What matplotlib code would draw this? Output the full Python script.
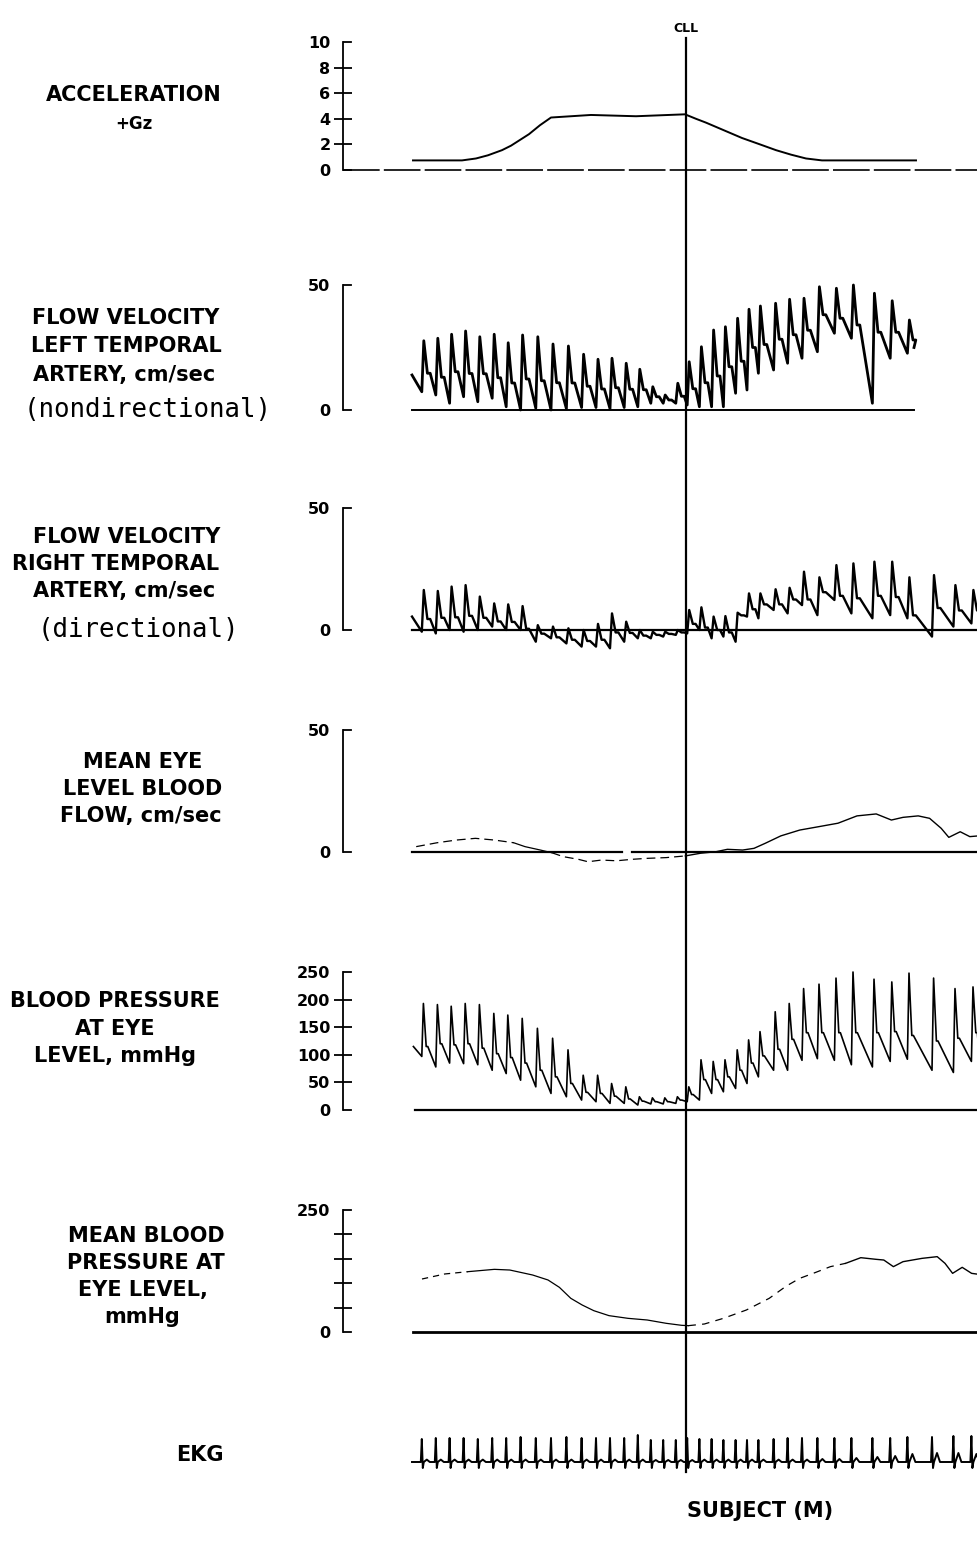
import numpy as np
import matplotlib
matplotlib.use('Agg')
import matplotlib.pyplot as plt
from matplotlib.transforms import blended_transform_factory

# ---- data (time in s, 0 = start of trace) ----
t_cll = 13.8

acc_t = [0.15, 2.6, 3.3, 3.9, 4.6, 5.05, 5.5, 5.95, 6.5, 7.05, 9.05, 11.3, 13.75,
         14.3, 14.8, 15.7, 16.6, 17.5, 18.3, 19.05, 19.8, 20.6, 25.3]
acc_g = [0.75, 0.75, 0.9, 1.15, 1.55, 1.9, 2.35, 2.8, 3.5, 4.1, 4.3, 4.2, 4.35,
         4.0, 3.7, 3.1, 2.5, 2.0, 1.55, 1.2, 0.9, 0.75, 0.75]

# heart beat onsets (from EKG / pulse upstrokes)
beat_t = [0.59, 1.29, 1.98, 2.68, 3.39, 4.11, 4.81, 5.53, 6.29, 7.05,
          7.82, 8.58, 9.30, 10.00, 10.71, 11.39, 12.04, 12.66, 13.29, 13.86,
          14.47, 15.08, 15.67, 16.28, 16.85, 17.42, 18.18, 18.88, 19.60, 20.37,
          21.22, 22.07, 23.12, 24.01, 24.87, 26.10, 27.17, 28.07]

# left temporal artery flow velocity (nondirectional), cm/sec
lta_peak = [27.7, 28.7, 30.3, 31.6, 29.3, 30.3, 26.9, 30.0, 29.3, 26.4,
            25.6, 22.3, 20.3, 20.7, 18.7, 16.3, 9.3, 6.0, 10.7, 19.3,
            25.3, 32.0, 33.3, 36.7, 40.3, 41.6, 42.7, 44.3, 44.7, 49.3,
            48.7, 50.0, 46.7, 43.7, 36.0]
lta_notch = [14.7, 13.1, 15.3, 14.6, 14.5, 12.9, 10.8, 12.4, 11.7, 10.9,
             10.8, 9.5, 8.4, 8.9, 8.3, 8.1, 5.3, 4.0, 5.5, 8.5,
             10.9, 13.6, 17.3, 19.5, 25.0, 26.2, 28.3, 30.1, 31.9, 38.1,
             36.7, 34.0, 31.1, 31.1, 28.0]
lta_trough = [7.3, 6.0, 2.7, 5.3, 3.3, 4.7, 1.3, 0.0, 0.7, 0.0,
              0.5, 1.0, 1.0, 0.5, 1.0, 1.3, 2.7, 2.7, 2.7, 2.0,
              1.3, 1.3, 1.3, 6.7, 8.0, 14.7, 16.0, 18.7, 20.7, 23.3,
              30.7, 28.7, 2.7, 20.7, 22.7]
lta_start, lta_end = (0.1, 14.0), (25.2, 25.0)

# right temporal artery flow velocity (directional), cm/sec
rta_peak = [16.4, 16.0, 17.8, 18.4, 13.7, 10.9, 10.5, 9.8, 2.0, 1.4,
            0.7, 0.0, 2.5, 6.8, 3.4, 0.0, -0.7, -0.7, 0.0, 8.2,
            9.3, 5.5, 5.7, 7.1, 15.0, 15.0, 16.7, 17.3, 23.9, 21.6,
            26.6, 27.3, 28.0, 28.0, 21.6, 22.5, 18.4, 16.4]
rta_notch = [4.5, 5.0, 5.2, 5.8, 5.0, 3.5, 3.3, 0.5, -1.5, -3.0,
             -4.0, -4.5, -4.0, -1.0, -1.2, -2.3, -2.0, -1.6, -1.0, 2.5,
             1.0, 0.0, -1.0, 6.0, 8.5, 10.5, 10.5, 12.5, 12.5, 15.5,
             14.0, 13.0, 14.0, 13.5, 6.0, 9.0, 8.0, 8.0]
rta_trough = [-0.7, -1.4, 0.0, -0.7, 0.0, 1.4, 0.0, 0.0, -4.8, -3.4,
              -5.5, -6.8, -6.8, -7.5, -4.8, -3.4, -3.4, -2.7, -2.0, -1.4,
              0.0, -3.4, -2.7, -4.8, 5.5, 4.8, 8.2, 6.8, 10.2, 6.1,
              12.3, 6.8, 4.8, 6.1, 4.8, -2.7, 1.4, 2.7]
rta_start, rta_end = (0.1, 5.5), (28.4, 11.0)

# mean eye level blood flow, cm/sec
mf_t = [0.31, 1.36, 2.32, 3.27, 4.22, 5.18, 5.75, 6.52, 7.09, 7.66,
        8.42, 8.90, 9.57, 10.33, 11.10, 11.86, 12.81, 13.77, 14.53, 15.29,
        15.87, 16.63, 17.20, 17.77, 18.54, 19.49, 20.45, 21.40, 22.35, 23.31,
        24.07, 24.65, 25.41, 25.98, 26.56, 26.94, 27.51, 27.99, 28.42]
mf_v = [2.2, 3.8, 4.9, 5.6, 4.9, 3.8, 2.2, 0.8, -0.3, -1.9,
        -3.0, -4.0, -3.3, -3.6, -3.0, -2.6, -2.3, -1.6, -0.5, 0.1,
        1.1, 0.8, 1.5, 3.6, 6.6, 9.0, 10.4, 11.8, 14.8, 15.6,
        13.1, 14.2, 14.8, 13.8, 9.7, 6.0, 8.3, 6.3, 6.6]

# blood pressure at eye level, mmHg
bp_peak = [193, 191, 188, 193, 191, 175, 172, 166, 148, 130,
           109, 63, 63, 48, 42, 24, 22, 22, 24, 42,
           91, 88, 91, 109, 127, 142, 178, 193, 220, 228,
           239, 250, 237, 232, 248, 239, 220, 223]
bp_notch = [115, 120, 118, 120, 112, 102, 95, 85, 72, 60,
            48, 32, 30, 25, 20, 16, 15, 15, 18, 28,
            55, 55, 60, 72, 85, 98, 110, 128, 140, 140,
            140, 140, 140, 142, 135, 125, 130, 140]
bp_trough = [97, 78, 85, 84, 82, 72, 66, 54, 42, 30,
             24, 18, 15, 12, 12, 9, 11, 11, 12, 15,
             18, 30, 33, 39, 48, 60, 72, 72, 90, 93,
             90, 82, 78, 88, 92, 72, 68, 88]
bp_start, bp_end = (0.17, 115), (28.4, 125)

# mean blood pressure at eye level, mmHg
mbp_t = [0.60, 1.74, 2.89, 4.22, 4.99, 6.13, 6.90, 7.47, 8.04, 8.61,
         9.19, 9.95, 10.90, 11.86, 12.81, 13.58, 13.92, 14.72, 15.67, 16.82,
         17.96, 18.82, 19.49, 20.25, 21.02, 21.78, 22.54, 23.31, 23.69, 24.17,
         24.65, 25.60, 26.36, 26.75, 27.13, 27.61, 28.08, 28.43]
mbp_v = [108.6, 118.9, 123.6, 128.4, 127.0, 116.8, 106.6, 91.5, 69.0, 55.3,
         43.7, 33.5, 28.0, 24.6, 17.8, 13.7, 13.0, 16.4, 28.0, 45.1,
         69.0, 94.3, 110.0, 121.6, 133.9, 140.7, 152.3, 148.9, 147.5, 133.9,
         144.1, 150.9, 154.4, 140.7, 120.2, 132.5, 120.2, 118.2]

# EKG (arbitrary units)
ekg_r = [1.15, 1.2, 1.2, 1.2, 1.15, 1.2, 1.2, 1.25, 1.2, 1.2,
         1.25, 1.2, 1.2, 1.2, 1.2, 1.35, 1.1, 1.1, 1.1, 1.2,
         1.15, 1.15, 1.1, 1.1, 1.1, 1.1, 1.15, 1.2, 1.2, 1.2,
         1.2, 1.2, 1.2, 1.2, 1.25, 1.25, 1.3, 1.3]
ekg_tw = [0.12, 0.12, 0.12, 0.12, 0.12, 0.12, 0.12, 0.12, 0.12, 0.12,
          0.12, 0.12, 0.12, 0.12, 0.12, 0.12, 0.1, 0.1, 0.1, 0.1,
          0.12, 0.12, 0.12, 0.12, 0.12, 0.12, 0.12, 0.12, 0.12, 0.15,
          0.15, 0.2, 0.25, 0.3, 0.4, 0.45, 0.45, 0.4]
ekg_s = -0.3


def pulse_line(beats, peak, notch, trough, start, end, rise, fall, hold):
    xs = [start[0]]
    ys = [start[1]]
    for i in range(len(peak)):
        t = beats[i]
        xs += [t, t + rise, t + fall, t + hold]
        ys += [trough[i], peak[i], notch[i], notch[i]]
    xs.append(end[0])
    ys.append(end[1])
    return xs, ys


def ekg_line(beats, r, tw):
    xs = [0.1]
    ys = [0.0]
    for i in range(len(beats)):
        t = beats[i]
        xs += [t - 0.05, t, t + 0.05, t + 0.1, t + 0.25, t + 0.4]
        ys += [0.0, r[i], ekg_s, 0.0, tw[i], 0.0]
    xs.append(28.4)
    ys.append(0.0)
    return xs, ys


W, H = 978, 1553
fig = plt.figure(figsize=(W / 100, H / 100), dpi=100)

SPINE_PX = 343
T_LEFT = (SPINE_PX - 410) / 20.0
T_RIGHT = (W - 410) / 20.0
HOOK = 0.013


def panel(zero_px, top_px, vmax, vlo, vhi):
    ppu = (zero_px - top_px) / vmax
    bot = zero_px - vlo * ppu
    top = zero_px - vhi * ppu
    ax = fig.add_axes([SPINE_PX / W, 1 - bot / H, (W - SPINE_PX) / W, (bot - top) / H])
    ax.set_xlim(T_LEFT, T_RIGHT)
    ax.set_ylim(vlo, vhi)
    ax.patch.set_alpha(0)
    for s in ['top', 'right', 'bottom']:
        ax.spines[s].set_visible(False)
    ax.set_xticks([])
    return ax


def bracket(ax, vmax, ticks, labels, crosses):
    sp = ax.spines['left']
    sp.set_bounds(0, vmax)
    sp.set_linewidth(1.3)
    ax.yaxis.remove_overlapping_locs = False
    ax.set_yticks(ticks)
    ax.set_yticklabels(labels, fontweight='bold', fontsize=11.5)
    ax.tick_params(axis='y', which='major', length=0, pad=9)
    ax.set_yticks(crosses, minor=True)
    ax.tick_params(axis='y', which='minor', direction='inout', length=13, width=1.3)
    ax.axhline(vmax, xmin=0, xmax=HOOK, color='k', lw=1.3)
    ax.axhline(0, xmin=0, xmax=HOOK, color='k', lw=1.3)


# acceleration
ax1 = panel(170, 42, 10, -1, 11)
bracket(ax1, 10, [0, 2, 4, 6, 8, 10], ['0', '2', '4', '6', '8', '10'], [2, 4, 6, 8])
ax1.axhline(0, color='k', lw=1.2, ls=(0, (22, 2.5)))
ax1.plot(acc_t, acc_g, color='k', lw=1.4)

# left temporal
ax2 = panel(410, 285, 50, -4, 54)
bracket(ax2, 50, [0, 50], ['0', '50'], [])
ax2.plot([lta_start[0], lta_end[0]], [0, 0], color='k', lw=1.4)
x, y = pulse_line(beat_t, lta_peak, lta_notch, lta_trough, lta_start, lta_end, 0.1, 0.28, 0.42)
ax2.plot(x, y, color='k', lw=2.0, clip_on=False, solid_joinstyle='round')

# right temporal
ax3 = panel(630, 508, 50, -12, 54)
bracket(ax3, 50, [0, 50], ['0', '50'], [])
ax3.plot([rta_start[0], T_RIGHT], [0, 0], color='k', lw=1.6)
x, y = pulse_line(beat_t, rta_peak, rta_notch, rta_trough, rta_start, rta_end, 0.1, 0.28, 0.42)
ax3.plot(x, y, color='k', lw=1.7, clip_on=False, solid_joinstyle='round')

# mean eye level flow
ax4 = panel(852, 730, 50, -8, 54)
bracket(ax4, 50, [0, 50], ['0', '50'], [])
ax4.plot([0.1, 10.6], [0, 0], color='k', lw=1.6)
ax4.plot([11.1, T_RIGHT], [0, 0], color='k', lw=1.6)
ax4.plot(mf_t[:6], mf_v[:6], color='k', lw=0.9, ls=(0, (7, 4)))
ax4.plot(mf_t[5:9], mf_v[5:9], color='k', lw=0.9)
ax4.plot(mf_t[8:18], mf_v[8:18], color='k', lw=0.9, ls=(0, (7, 4)))
ax4.plot(mf_t[17:], mf_v[17:], color='k', lw=1.0, clip_on=False)

# blood pressure at eye level
ax5 = panel(1110, 972, 250, -15, 262)
bracket(ax5, 250, [0, 50, 100, 150, 200, 250], ['0', '50', '100', '150', '200', '250'],
        [50, 100, 150, 200])
ax5.plot([0.25, T_RIGHT], [0, 0], color='k', lw=1.6)
x, y = pulse_line(beat_t, bp_peak, bp_notch, bp_trough, bp_start, bp_end, 0.08, 0.22, 0.3)
ax5.plot(x, y, color='k', lw=1.2, clip_on=False)

# mean blood pressure
ax6 = panel(1332, 1210, 250, -20, 262)
bracket(ax6, 250, [0, 250], ['0', '250'], [50, 100, 150, 200])
ax6.plot([0.15, T_RIGHT], [0, 0], color='k', lw=2.0)
ax6.plot(mbp_t[:3], mbp_v[:3], color='k', lw=0.9, ls=(0, (5, 4)))
ax6.plot(mbp_t[2:17], mbp_v[2:17], color='k', lw=0.9)
ax6.plot(mbp_t[16:26], mbp_v[16:26], color='k', lw=0.9, ls=(0, (6, 5)))
ax6.plot(mbp_t[25:], mbp_v[25:], color='k', lw=1.0, clip_on=False)

# EKG
ax7 = panel(1462, 1442, 1, -1.5, 2.0)
ax7.axis('off')
x, y = ekg_line(beat_t, ekg_r, ekg_tw)
ax7.plot(x, y, color='k', lw=1.4, clip_on=False)

# CLL marker across all channels
ax0 = fig.add_axes([SPINE_PX / W, 0, (W - SPINE_PX) / W, 1])
ax0.set_xlim(T_LEFT, T_RIGHT)
ax0.set_ylim(0, 1)
ax0.axis('off')
ax0.axvline(t_cll, ymin=1 - 1472 / H, ymax=1 - 38 / H, color='k', lw=1.6)
tr = blended_transform_factory(ax0.transData, ax0.transAxes)
ax0.text(t_cll, 1 - 28 / H, 'CLL', transform=tr, ha='center', va='center',
         fontsize=9, fontweight='bold')

# channel labels
bold = dict(ha='center', va='center', fontsize=15, fontweight='bold', family='DejaVu Sans')
mono = dict(ha='center', va='center', fontsize=18.5, family='DejaVu Sans Mono')


def label(x, y, s, **kw):
    fig.text(x / W, 1 - y / H, s, **kw)


label(134, 95, 'ACCELERATION', **bold)
label(134, 124, '+Gz', **dict(bold, fontsize=12))

label(126, 318, 'FLOW VELOCITY', **bold)
label(126, 346, 'LEFT TEMPORAL', **bold)
label(124, 375, 'ARTERY, cm/sec', **bold)
label(148, 410, '(nondirectional)', **mono)

label(127, 537, 'FLOW VELOCITY', **bold)
label(116, 564, 'RIGHT TEMPORAL', **bold)
label(124, 591, 'ARTERY, cm/sec', **bold)
label(138, 630, '(directional)', **mono)

label(143, 762, 'MEAN EYE', **bold)
label(143, 789, 'LEVEL BLOOD', **bold)
label(141, 816, 'FLOW, cm/sec', **bold)

label(115, 1001, 'BLOOD PRESSURE', **bold)
label(115, 1029, 'AT EYE', **bold)
label(115, 1056, 'LEVEL, mmHg', **bold)

label(146, 1236, 'MEAN BLOOD', **bold)
label(146, 1263, 'PRESSURE AT', **bold)
label(143, 1290, 'EYE LEVEL,', **bold)
label(142, 1317, 'mmHg', **bold)

label(200, 1455, 'EKG', **bold)
label(760, 1511, 'SUBJECT (M)', **bold)

fig.savefig('out.png', dpi=100)
